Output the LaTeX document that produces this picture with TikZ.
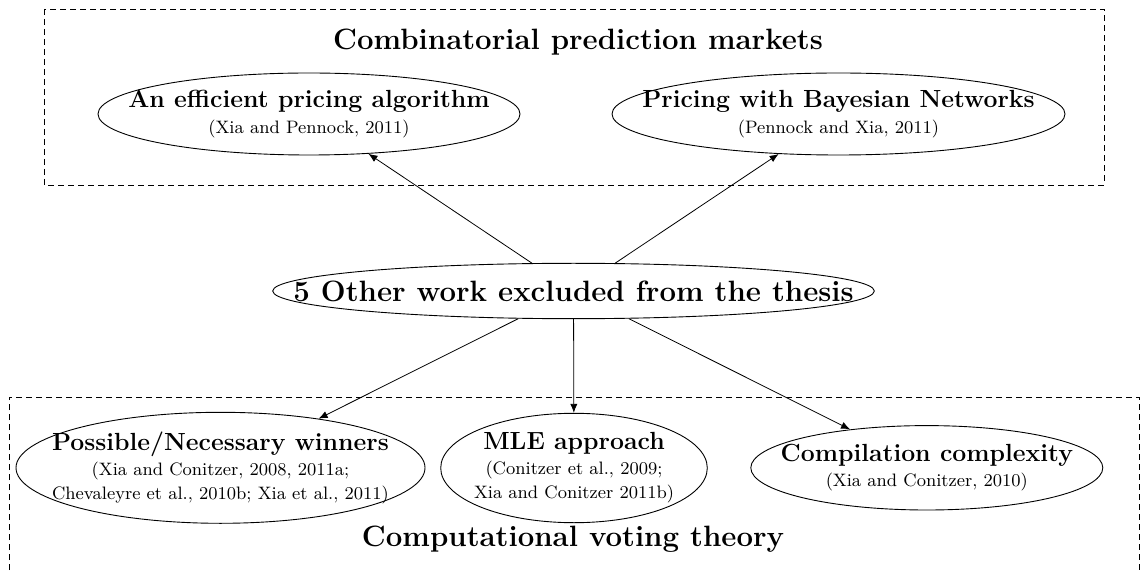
\documentclass[tikz,border=0pt]{standalone}
\usetikzlibrary{shapes.geometric,arrows.meta}
\newcommand{\headfont}{\fontsize{14.7}{17}\bfseries\selectfont}
\newcommand{\namefont}{\fontsize{12.4}{12}\bfseries\selectfont}
\newcommand{\citefont}{\fontsize{9}{12}\selectfont}
\begin{document}
\begin{tikzpicture}[x=0.5pt,y=-0.5pt,
  bubble/.style={draw,ellipse,inner sep=0pt,line width=0.45pt},
  bubbletext/.style={align=center,inner sep=0pt,font=\citefont},
  region/.style={draw,dash pattern=on 3pt off 2pt},
  link/.style={-{Latex[length=4.5pt,width=3.6pt]}},
  heading/.style={font=\headfont,anchor=base,inner sep=0pt}]
\useasboundingbox (0,0) rectangle (1144,571);
% regions
\draw[region] (44,9) rectangle (1104,185);
\draw[region] (9,580) -- (9,397) -- (1139,397) -- (1139,580);
\node[heading] (toptitle) at (578,49.3) {Combinatorial prediction markets};
\node[heading] (bottitle) at (573,546.7) {Computational voting theory};
% ellipses
\node[bubble,minimum width=211pt,minimum height=41pt] (eff) at (309,114) {};
\node[bubbletext] (efft) at (eff) {{\namefont An efficient pricing algorithm}\\[1pt](Xia and Pennock, 2011)};
\node[bubble,minimum width=226.5pt,minimum height=41pt] (bay) at (838.5,114) {};
\node[bubbletext] (bayt) at (bay) {{\namefont Pricing with Bayesian Networks}\\[1pt](Pennock and Xia, 2011)};
\node[bubble,minimum width=300.8pt,minimum height=27.7pt] (other) at (573.5,291) {};
\node[heading,anchor=center] (othert) at (other) {5 Other work excluded from the thesis};
\node[bubble,minimum width=204.5pt,minimum height=55.5pt] (pos) at (220.5,467.8) {};
\node[bubbletext] (post) at (pos) {{\namefont Possible/Necessary winners}\\[0.5pt](Xia and Conitzer, 2008, 2011a;\\Chevaleyre et al., 2010b; Xia et al., 2011)};
\node[bubble,minimum width=133.3pt,minimum height=54.7pt] (mle) at (574,468) {};
\node[bubbletext] (mlet) at (mle) {{\namefont MLE approach}\\[0.5pt](Conitzer et al., 2009;\\Xia and Conitzer 2011b)};
\node[bubble,minimum width=176pt,minimum height=42.2pt] (comp) at (926.8,467.8) {};
\node[bubbletext] (compt) at (comp) {{\namefont Compilation complexity}\\[0.5pt](Xia and Conitzer, 2010)};
% connectors
\draw[link] (other) -- (eff);
\draw[link] (other) -- (bay);
\draw[link] (other) -- (pos);
\draw[link] (other) -- (mle);
\draw[link] (other) -- (comp);
\end{tikzpicture}
\end{document}
